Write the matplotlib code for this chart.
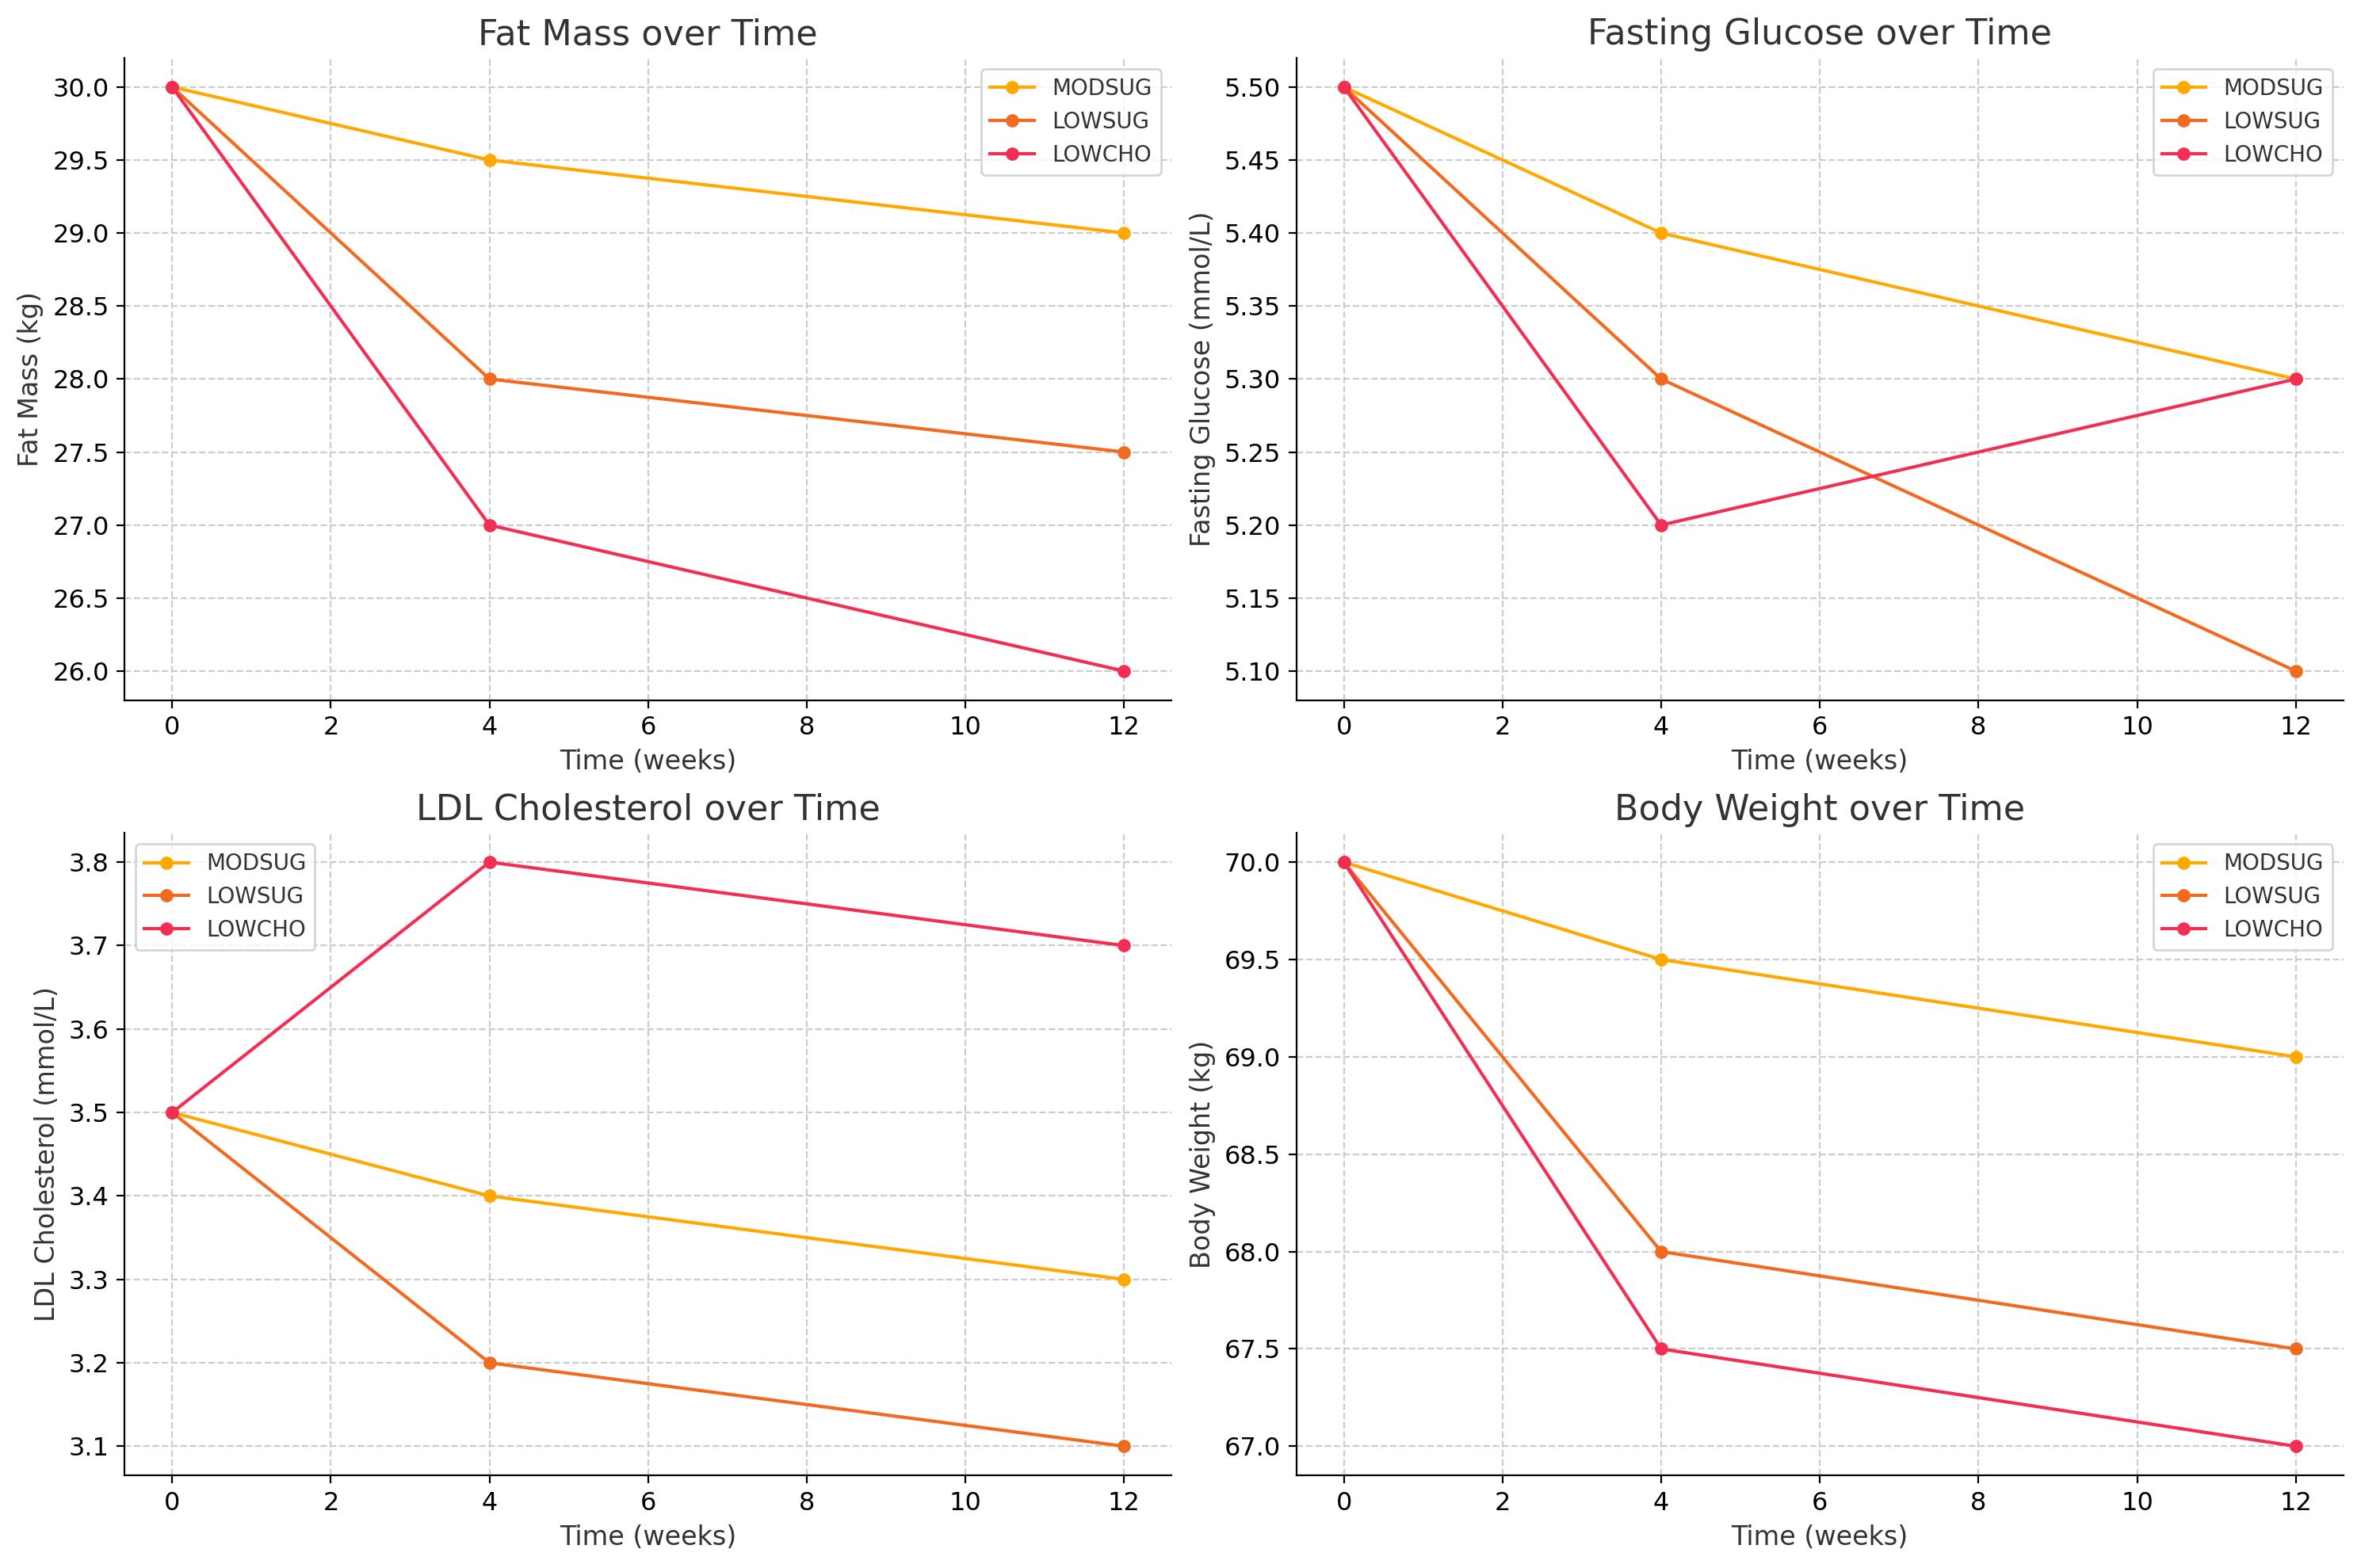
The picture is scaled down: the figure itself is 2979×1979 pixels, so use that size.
import matplotlib.pyplot as plt
import numpy as np

# Datos
weeks = [0, 4, 12]
groups = ['MODSUG', 'LOWSUG', 'LOWCHO']
colors = ['#FFA800', '#F26A20', '#F22E55']

fat_mass = [[30.0, 29.5, 29.0], [30.0, 28.0, 27.5], [30.0, 27.0, 26.0]]
glucose = [[5.5, 5.4, 5.3], [5.5, 5.3, 5.1], [5.5, 5.2, 5.3]]
ldl = [[3.5, 3.4, 3.3], [3.5, 3.2, 3.1], [3.5, 3.8, 3.7]]
body_weight = [[70.0, 69.5, 69.0], [70.0, 68.0, 67.5], [70.0, 67.5, 67.0]]

panels = [
    ('Fat Mass over Time', 'Fat Mass (kg)', fat_mass, '%.1f', 'upper right'),
    ('Fasting Glucose over Time', 'Fasting Glucose (mmol/L)', glucose, '%.2f', 'upper right'),
    ('LDL Cholesterol over Time', 'LDL Cholesterol (mmol/L)', ldl, '%.1f', 'upper left'),
    ('Body Weight over Time', 'Body Weight (kg)', body_weight, '%.1f', 'upper right'),
]

plt.rcParams['text.color'] = '#333333'
plt.rcParams['axes.labelcolor'] = '#333333'

fig, axes = plt.subplots(2, 2, figsize=(14.895, 9.895), dpi=200)

for ax, (title, ylabel, data, fmt, loc) in zip(axes.flat, panels):
    for name, color, vals in zip(groups, colors, data):
        ax.plot(weeks, vals, marker='o', color=color, label=name, linewidth=1.5, markersize=5)
    ax.set_title(title, fontsize=16)
    ax.set_xlabel('Time (weeks)', fontsize=12)
    ax.set_ylabel(ylabel, fontsize=12)
    ax.tick_params(labelsize=11.5)
    ax.yaxis.set_major_formatter(plt.FormatStrFormatter(fmt))
    ax.grid(True, linestyle='--', color='#cccccc', linewidth=0.8)
    ax.spines['top'].set_visible(False)
    ax.spines['right'].set_visible(False)
    ax.legend(loc=loc, fontsize=10, edgecolor='#cccccc')

plt.tight_layout(pad=0.8)
plt.savefig('out.png', dpi=200)
